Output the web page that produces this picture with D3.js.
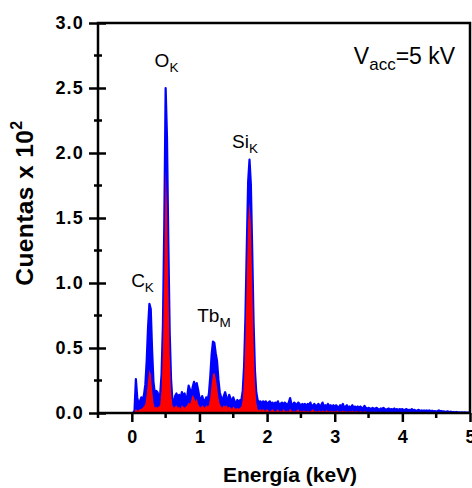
<!DOCTYPE html>
<html>
<head>
<meta charset="utf-8">
<script src="https://cdn.jsdelivr.net/npm/d3@7"></script>
<style>
  html, body { margin: 0; padding: 0; background: #fff; }
  svg { display: block; font-family: "Liberation Sans", Arial, Helvetica, sans-serif; }
</style>
</head>
<body>
<svg id="chart" width="472" height="488"></svg>
<script>
// EDS spectrum, channels every 0.02 keV starting at 0 keV; counts in units of 10^2
const energyStart = 0.0;
const energyStep = 0.02;

// total spectrum (blue)
const countsTotal = [
  0, 0, 0.02, 0.26, 0.12, 0.07, 0.09, 0.12, 0.10, 0.14,
  0.22, 0.40, 0.66, 0.84, 0.80, 0.48, 0.24, 0.15, 0.17, 0.16,
  0.12, 0.15, 0.30, 0.68, 1.45, 2.50, 2.12, 1.30, 0.62, 0.26,
  0.10, 0.08, 0.13, 0.15, 0.12, 0.14, 0.11, 0.16, 0.13, 0.15,
  0.10, 0.13, 0.21, 0.18, 0.14, 0.20, 0.24, 0.19, 0.23, 0.18,
  0.12, 0.09, 0.13, 0.10, 0.08, 0.12, 0.10, 0.15, 0.28, 0.45,
  0.55, 0.54, 0.46, 0.40, 0.26, 0.16, 0.12, 0.10, 0.13, 0.16,
  0.12, 0.09, 0.14, 0.11, 0.08, 0.12, 0.09, 0.07, 0.10, 0.08,
  0.10, 0.10, 0.17, 0.36, 0.74, 1.28, 1.78, 1.95, 1.76, 1.25,
  0.70, 0.33, 0.16, 0.10, 0.08, 0.09, 0.07, 0.09, 0.08, 0.09,
  0.07, 0.08, 0.09, 0.07, 0.08, 0.06, 0.08, 0.07, 0.09, 0.06,
  0.07, 0.08, 0.06, 0.08, 0.07, 0.06, 0.08, 0.115, 0.07, 0.06,
  0.08, 0.07, 0.06, 0.08, 0.07, 0.05, 0.07, 0.06, 0.07, 0.05,
  0.07, 0.06, 0.08, 0.05, 0.06, 0.07, 0.05, 0.06, 0.07, 0.05,
  0.06, 0.08, 0.05, 0.06, 0.05, 0.07, 0.05, 0.06, 0.04, 0.06,
  0.05, 0.06, 0.05, 0.04, 0.06, 0.05, 0.07, 0.04, 0.05, 0.06,
  0.04, 0.05, 0.04, 0.06, 0.04, 0.05, 0.04, 0.05, 0.04, 0.05,
  0.04, 0.035, 0.055, 0.04, 0.03, 0.04, 0.035, 0.03, 0.04, 0.03,
  0.035, 0.04, 0.03, 0.025, 0.035, 0.03, 0.04, 0.03, 0.025, 0.03,
  0.035, 0.025, 0.03, 0.025, 0.035, 0.025, 0.03, 0.02, 0.03, 0.025,
  0.03, 0.02, 0.025, 0.03, 0.02, 0.025, 0.02, 0.03, 0.02, 0.025,
  0.015, 0.02, 0.025, 0.015, 0.02, 0.015, 0.02, 0.015, 0.02, 0.015,
  0.02, 0.012, 0.018, 0.012, 0.015, 0.01, 0.015, 0.02, 0.012, 0.015,
  0.01, 0.012, 0.008, 0.012, 0.01, 0.008, 0.01, 0.006, 0.008, 0.006,
  0.008, 0.005, 0.006, 0.004, 0.006, 0.004, 0.005, 0.003, 0.004, 0.003,
  0.003
];

// second spectrum (red)
const countsMatrix = [
  0, 0, 0.01, 0.03, 0.02, 0.02, 0.03, 0.03, 0.04, 0.05,
  0.07, 0.14, 0.25, 0.33, 0.30, 0.18, 0.08, 0.04, 0.05, 0.04,
  0.05, 0.06, 0.18, 0.48, 1.08, 1.87, 1.60, 0.98, 0.45, 0.16,
  0.06, 0.04, 0.05, 0.06, 0.04, 0.05, 0.03, 0.06, 0.05, 0.04,
  0.05, 0.06, 0.08, 0.07, 0.10, 0.14, 0.12, 0.09, 0.11, 0.07,
  0.05, 0.04, 0.06, 0.05, 0.04, 0.06, 0.05, 0.06, 0.12, 0.22,
  0.30, 0.31, 0.27, 0.20, 0.12, 0.07, 0.05, 0.04, 0.06, 0.05,
  0.06, 0.04, 0.05, 0.04, 0.03, 0.05, 0.04, 0.03, 0.04, 0.03,
  0.04, 0.05, 0.10, 0.26, 0.58, 1.05, 1.48, 1.62, 1.46, 1.02,
  0.56, 0.24, 0.08, 0.03, 0.02, 0.03, 0.02, 0.03, 0.02, 0.02,
  0.03, 0.02, 0.01, 0.02, 0.03, 0.02, 0.01, 0.02, 0.03, 0.01,
  0.02, 0.01, 0.03, 0.02, 0.01, 0.02, 0.01, 0.035, 0.02, 0.01,
  0.02, 0.01, 0.02, 0.03, 0.01, 0.02, 0.01, 0.02, 0.015, 0.01,
  0.02, 0.01, 0.015, 0.02, 0.03, 0.01, 0.02, 0.01, 0.015, 0.02,
  0.01, 0.02, 0.015, 0.01, 0.025, 0.01, 0.015, 0.01, 0.02, 0.01,
  0.015, 0.01, 0.02, 0.01, 0.015, 0.01, 0.02, 0.01, 0.015, 0.01,
  0.01, 0.015, 0.01, 0.02, 0.01, 0.01, 0.015, 0.01, 0.01, 0.015,
  0.01, 0.008, 0.015, 0.01, 0.008, 0.01, 0.008, 0.01, 0.006, 0.01,
  0.008, 0.01, 0.006, 0.008, 0.01, 0.006, 0.008, 0.006, 0.008, 0.006,
  0.008, 0.006, 0.005, 0.008, 0.006, 0.005, 0.006, 0.005, 0.006, 0.004,
  0.005, 0.004, 0.006, 0.004, 0.005, 0.004, 0.005, 0.003, 0.004, 0.003,
  0.004, 0.003, 0.004, 0.003, 0.003, 0.004, 0.003, 0.003, 0.002, 0.003,
  0.003, 0.002, 0.003, 0.002, 0.003, 0.002, 0.002, 0.003, 0.002, 0.002,
  0.002, 0.002, 0.001, 0.002, 0.001, 0.002, 0.001, 0.001, 0.002, 0.001,
  0.001, 0.001, 0.001, 0.001, 0.001, 0.001, 0.001, 0.001, 0.001, 0.001,
  0.001
];

const xTickValues = [0, 1, 2, 3, 4, 5];
const xMinorTicks = [-0.5, 0.5, 1.5, 2.5, 3.5, 4.5];
const yTickValues = [0.0, 0.5, 1.0, 1.5, 2.0, 2.5, 3.0];
const yMinorTicks = [0.25, 0.75, 1.25, 1.75, 2.25, 2.75];

// peak annotations: element, line, anchor energy (keV), baseline height (10^2 counts)
const peakNames = ["O", "Si", "C", "Tb"];
const peakLines = ["K", "K", "K", "M"];
const peakEnergy = [0.513, 1.674, 0.158, 1.215];
const peakHeight = [2.658, 2.038, 0.969, 0.70];

const plot = { left: 98, right: 470, top: 23, bottom: 413 };

const svg = d3.select("#chart");

const x = d3.scaleLinear().domain([-0.5, 5]).range([plot.left, plot.right]);
const y = d3.scaleLinear().domain([0, 3]).range([plot.bottom, plot.top]);

const spectrum = (arr) => arr.map((v, i) => ({ e: energyStart + i * energyStep, v }));

svg.append("defs").append("clipPath").attr("id", "plotClip")
  .append("rect")
  .attr("x", plot.left).attr("y", plot.top)
  .attr("width", plot.right - plot.left).attr("height", plot.bottom - plot.top);

const area = d3.area().x(d => x(d.e)).y0(y(0)).y1(d => y(d.v));
const line = d3.line().x(d => x(d.e)).y(d => y(d.v));

const g = svg.append("g").attr("clip-path", "url(#plotClip)");

g.append("path").datum(spectrum(countsTotal))
  .attr("d", area).attr("fill", "#0000ff");
g.append("path").datum(spectrum(countsTotal))
  .attr("d", line).attr("fill", "none").attr("stroke", "#0000ff")
  .attr("stroke-width", 2.2).attr("stroke-linejoin", "round");
g.append("path").datum(spectrum(countsMatrix))
  .attr("d", area).attr("fill", "#ff0000");

// frame
svg.append("rect")
  .attr("x", plot.left).attr("y", plot.top)
  .attr("width", plot.right - plot.left).attr("height", plot.bottom - plot.top)
  .attr("fill", "none").attr("stroke", "#000").attr("stroke-width", 2.5);

// y axis
const yAxis = svg.append("g").attr("transform", `translate(${plot.left},0)`)
  .call(d3.axisLeft(y).tickValues(yTickValues).tickFormat(d3.format(".1f"))
    .tickSizeInner(9).tickSizeOuter(0).tickPadding(6));
yAxis.select(".domain").remove();
yAxis.selectAll(".tick line").attr("x2", 8).attr("x1", -9).attr("stroke-width", 2.5);
yAxis.selectAll(".tick text")
  .attr("font-size", 18).attr("font-weight", "bold").attr("fill", "#000")
  .attr("letter-spacing", 1.2).attr("dx", 1)
  .attr("font-family", "Liberation Sans, Arial, sans-serif");

svg.append("g").selectAll("line").data(yMinorTicks).join("line")
  .attr("x1", plot.left - 4).attr("x2", plot.left + 4)
  .attr("y1", d => y(d)).attr("y2", d => y(d))
  .attr("stroke", "#000").attr("stroke-width", 2.5);

// x axis
const xAxis = svg.append("g").attr("transform", `translate(0,${plot.bottom})`)
  .call(d3.axisBottom(x).tickValues(xTickValues).tickFormat(d3.format("d"))
    .tickSizeInner(9).tickSizeOuter(0).tickPadding(8));
xAxis.select(".domain").remove();
xAxis.selectAll(".tick line").attr("stroke-width", 2.5);
xAxis.selectAll(".tick text")
  .attr("font-size", 18).attr("font-weight", "bold").attr("fill", "#000")
  .attr("font-family", "Liberation Sans, Arial, sans-serif");

svg.append("g").selectAll("line").data(xMinorTicks).join("line")
  .attr("x1", d => x(d)).attr("x2", d => x(d))
  .attr("y1", plot.bottom).attr("y2", plot.bottom + 5)
  .attr("stroke", "#000").attr("stroke-width", 2.5);

// axis titles
svg.append("text")
  .attr("x", (plot.left + plot.right) / 2 + 6).attr("y", 482)
  .attr("text-anchor", "middle").attr("font-size", 21).attr("font-weight", "bold")
  .text("Energía (keV)");

const yTitle = svg.append("text")
  .attr("transform", "translate(33,203) rotate(-90)")
  .attr("text-anchor", "middle").attr("font-size", 24.5).attr("font-weight", "bold")
  .attr("letter-spacing", 0.4);
yTitle.append("tspan").text("Cuentas x 10");
yTitle.append("tspan").attr("font-size", 16).attr("dy", -11).text("2");

// peak labels
peakNames.forEach((name, i) => {
  const t = svg.append("text")
    .attr("x", x(peakEnergy[i])).attr("y", y(peakHeight[i]))
    .attr("text-anchor", "middle").attr("font-size", 19).attr("fill", "#000");
  t.append("tspan").text(name);
  t.append("tspan").attr("font-size", 13.5).attr("dy", 5).text(peakLines[i]);
});

// accelerating voltage
const vacc = svg.append("text")
  .attr("x", x(4.78)).attr("y", y(2.685))
  .attr("text-anchor", "end").attr("font-size", 23).attr("fill", "#000");
vacc.append("tspan").text("V");
vacc.append("tspan").attr("font-size", 17).attr("dy", 6.5).text("acc");
vacc.append("tspan").attr("dy", -6.5).text("=5 kV");
</script>
</body>
</html>
